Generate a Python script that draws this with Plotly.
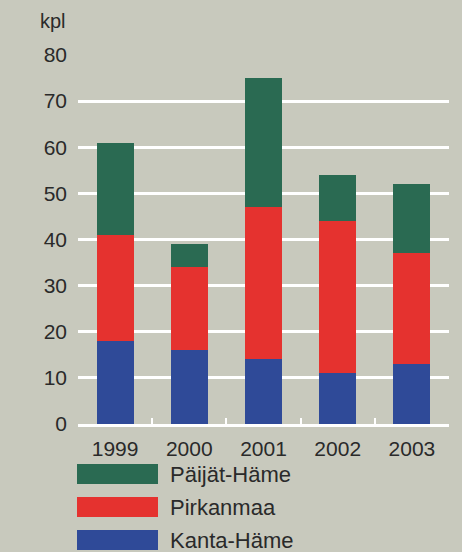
import plotly.graph_objects as go

years = ["1999", "2000", "2001", "2002", "2003"]
kanta_hame = [18, 16, 14, 11, 13]
pirkanmaa = [23, 18, 33, 33, 24]
paijat_hame = [20, 5, 28, 10, 15]
series_names = ["Kanta-Häme", "Pirkanmaa", "Päijät-Häme"]
series_colors = ["#2f4a98", "#e5322f", "#2a6a52"]
y_ticks = [0, 10, 20, 30, 40, 50, 60, 70, 80]

bg = "#c8c9bd"
font = "Liberation Sans, Arial, sans-serif"
txt = "#2a2a2a"

W, H = 462, 552
L, R, T, B = 78, 13, 55, 128

fig = go.Figure()
for name, vals, col in zip(series_names, [kanta_hame, pirkanmaa, paijat_hame], series_colors):
    fig.add_trace(go.Bar(x=years, y=vals, name=name, marker=dict(color=col, line=dict(width=0)),
                         showlegend=False))

fig.update_layout(
    barmode="stack",
    bargap=0.5,
    width=W, height=H,
    margin=dict(l=L, r=R, t=T, b=B),
    paper_bgcolor=bg, plot_bgcolor=bg,
    font=dict(family=font, size=20, color=txt),
    xaxis=dict(showgrid=False, showline=True, linecolor="white", linewidth=3,
               ticks="inside", tickson="boundaries", ticklen=6, tickwidth=2, tickcolor="white",
               ticklabelstandoff=4, tickfont=dict(size=21, color=txt)),
    yaxis=dict(range=[0, 80], tickvals=y_ticks, showgrid=True, gridcolor="white", gridwidth=2.5,
               zeroline=False, showline=False, ticks="", ticklabelstandoff=10,
               tickfont=dict(size=21, color=txt)),
)

plot_h = H - T - B
plot_w = W - L - R

def py2paper(py):
    return (H - B - py) / plot_h

def px2paper(px):
    return (px - L) / plot_w

fig.add_annotation(text="kpl", xref="paper", yref="paper", x=px2paper(68), y=py2paper(21),
                   xanchor="right", yanchor="middle", showarrow=False, font=dict(size=20, color=txt))

# custom legend (top to bottom: Päijät-Häme, Pirkanmaa, Kanta-Häme)
leg_order = [2, 1, 0]
row_y = [474, 507, 540]
for idx, yc in zip(leg_order, row_y):
    fig.add_shape(type="rect", xref="paper", yref="paper",
                  x0=px2paper(77), x1=px2paper(158),
                  y0=py2paper(yc + 10), y1=py2paper(yc - 10),
                  fillcolor=series_colors[idx], line=dict(width=0))
    fig.add_annotation(text=series_names[idx], xref="paper", yref="paper",
                       x=px2paper(168), y=py2paper(yc),
                       xanchor="left", yanchor="middle", showarrow=False,
                       font=dict(size=22, color=txt))

fig.write_html("out.html", config={"displayModeBar": False},
               post_script="document.body.style.margin='0';document.body.style.background='%s';" % bg)
